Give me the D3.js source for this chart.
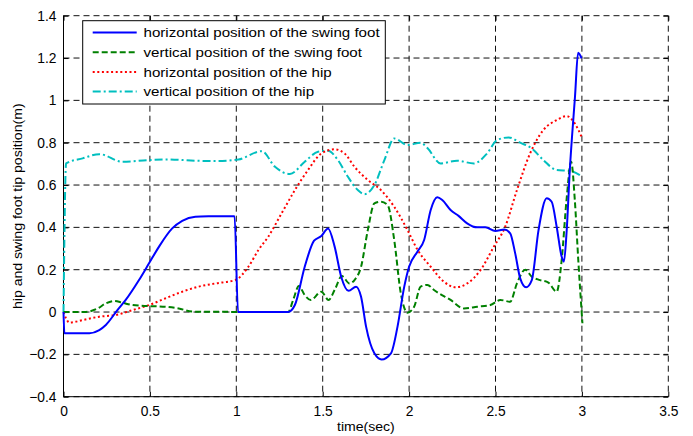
<!DOCTYPE html>
<html><head><meta charset="utf-8">
<script src="https://cdn.jsdelivr.net/npm/d3@7"></script>
<style>body{margin:0;background:#fff}svg{display:block}text{font-family:"Liberation Sans",Arial,sans-serif;fill:#000}</style>
</head><body><svg id="c" width="693" height="436"></svg>
<script>
const xTicks = [0, 0.5, 1, 1.5, 2, 2.5, 3, 3.5];
const yTicks = [-0.4, -0.2, 0, 0.2, 0.4, 0.6, 0.8, 1, 1.2, 1.4];
const seriesNames = ["horizontal position of the swing foot","vertical position of the swing foot","horizontal position of the hip","vertical position of the hip"];

const footHT = [0,0.005,0.15,0.207,0.245,0.312,0.36,0.437,0.495,0.552,0.629,0.687,0.763,0.84,0.99,1.01,1.30,1.339,1.396,1.45,1.492,1.531,1.569,1.607,1.65,1.693,1.722,1.751,1.799,1.841,1.895,1.933,1.972,2.0,2.048,2.087,2.125,2.163,2.192,2.24,2.288,2.336,2.394,2.441,2.499,2.551,2.585,2.614,2.643,2.677,2.71,2.749,2.796,2.825,2.854,2.883,2.896,2.911,2.93,2.96,2.978,2.998];
const footHV = [0,-0.1,-0.1,-0.085,-0.061,0.009,0.057,0.151,0.23,0.308,0.395,0.431,0.45,0.452,0.453,0,0,0.033,0.214,0.337,0.359,0.395,0.309,0.167,0.1,0.12,0.072,-0.069,-0.195,-0.224,-0.195,-0.069,0.12,0.214,0.285,0.34,0.482,0.542,0.529,0.482,0.453,0.419,0.4,0.4,0.383,0.39,0.372,0.277,0.159,0.117,0.151,0.387,0.537,0.521,0.403,0.261,0.238,0.372,0.67,1.017,1.225,1.198];

const footVT = [0,0.12,0.198,0.245,0.293,0.341,0.399,0.495,0.591,0.667,0.744,1.30,1.329,1.362,1.396,1.431,1.492,1.534,1.569,1.611,1.655,1.684,1.722,1.761,1.799,1.837,1.876,1.914,1.952,1.991,2.029,2.067,2.106,2.144,2.24,2.317,2.394,2.47,2.528,2.585,2.624,2.672,2.71,2.758,2.806,2.854,2.883,2.911,2.938,2.959,2.979,3.003];
const footVV = [0,0,0.017,0.041,0.052,0.044,0.033,0.028,0.025,0.017,0.002,0,0.057,0.123,0.08,0.057,0.096,0.057,0.104,0.17,0.135,0.151,0.214,0.387,0.513,0.521,0.505,0.34,0.088,-0.003,0.025,0.12,0.128,0.104,0.057,0.017,0.025,0.033,0.057,0.049,0.135,0.2,0.167,0.151,0.139,0.096,0.246,0.529,0.71,0.529,0.246,-0.053];

const hipHT = [0,0.035,0.111,0.207,0.303,0.399,0.495,0.591,0.687,0.782,0.878,0.994,1.07,1.128,1.185,1.262,1.339,1.415,1.492,1.569,1.627,1.684,1.761,1.837,1.914,1.991,2.048,2.125,2.202,2.269,2.336,2.413,2.49,2.556,2.624,2.7,2.777,2.854,2.911,2.959,2.998];
const hipHV = [0,-0.05,-0.038,-0.022,-0.014,0.009,0.033,0.065,0.096,0.12,0.135,0.151,0.214,0.293,0.356,0.466,0.576,0.671,0.749,0.769,0.749,0.686,0.624,0.576,0.497,0.387,0.295,0.214,0.143,0.117,0.135,0.198,0.308,0.403,0.576,0.749,0.86,0.907,0.926,0.891,0.828];

const hipVT = [0,0.015,0.111,0.207,0.341,0.495,0.591,0.763,0.878,1.013,1.147,1.224,1.31,1.396,1.473,1.531,1.588,1.646,1.703,1.742,1.799,1.857,1.914,1.991,2.067,2.106,2.182,2.278,2.375,2.451,2.509,2.576,2.643,2.71,2.777,2.854,2.93,2.998];
const hipVV = [0,0.702,0.726,0.746,0.71,0.718,0.721,0.715,0.713,0.721,0.76,0.686,0.652,0.71,0.757,0.762,0.718,0.639,0.576,0.557,0.6,0.718,0.82,0.789,0.8,0.775,0.702,0.715,0.702,0.749,0.812,0.825,0.8,0.773,0.718,0.671,0.667,0.642];

const L = 63.5, R = 668.3, T = 15.7, B = 396.7;
const x = d3.scaleLinear().domain([0, 3.5]).range([L, R]);
const y = d3.scaleLinear().domain([-0.4, 1.4]).range([B, T]);
const svg = d3.select("#c");

// grid
const g = svg.append("g");
g.selectAll("line.gx").data(xTicks).join("line")
  .attr("x1", d => x(d)).attr("x2", d => x(d)).attr("y1", T).attr("y2", B)
  .attr("stroke", "#111").attr("stroke-width", 1).attr("stroke-dasharray", "6,4");
g.selectAll("line.gy").data(yTicks).join("line")
  .attr("x1", L).attr("x2", R).attr("y1", d => y(d)).attr("y2", d => y(d))
  .attr("stroke", "#111").attr("stroke-width", 1).attr("stroke-dasharray", "6,4");

// axes
const xa = svg.append("g").attr("transform", `translate(0,${B})`)
  .call(d3.axisBottom(x).tickValues(xTicks).tickSize(-5).tickPadding(10).tickFormat(d3.format("")));
const ya = svg.append("g").attr("transform", `translate(${L},0)`)
  .call(d3.axisLeft(y).tickValues(yTicks).tickSize(-5).tickPadding(7).tickFormat(d3.format("")));
svg.append("g").attr("transform", `translate(0,${T})`)
  .call(d3.axisTop(x).tickValues(xTicks).tickSize(-5).tickFormat(""));
svg.append("g").attr("transform", `translate(${R},0)`)
  .call(d3.axisRight(y).tickValues(yTicks).tickSize(-5).tickFormat(""));
svg.selectAll(".domain").attr("stroke", "none");
svg.selectAll(".tick line").attr("stroke", "#000");
[xa, ya].forEach(a => a.selectAll("text").attr("font-size", 13.8).attr("fill", "#000")
  .style("font-family", '"Liberation Sans",Arial,sans-serif'));
svg.append("line").attr("x1", L).attr("x2", L).attr("y1", T).attr("y2", B).attr("stroke", "#000");
svg.append("line").attr("x1", L).attr("x2", R).attr("y1", B).attr("y2", B).attr("stroke", "#000");

// series
const series = [
  {t: hipVT, v: hipVV, color: "#00bfbf", dash: "8,3,2,3"},
  {t: hipHT, v: hipHV, color: "#ff0000", dash: "2,2.6"},
  {t: footVT, v: footVV, color: "#008000", dash: "6,3"},
  {t: footHT, v: footHV, color: "#0000ff", dash: null}
];
const line = d3.line().x(d => x(d[0])).y(d => y(d[1])).curve(d3.curveMonotoneX);
series.forEach(s => {
  svg.append("path").datum(s.t.map((t, i) => [t, s.v[i]]))
    .attr("d", line).attr("fill", "none").attr("stroke", s.color)
    .attr("stroke-width", 2).attr("stroke-dasharray", s.dash);
});

// legend
const leg = [
  {name: seriesNames[0], color: "#0000ff", dash: null},
  {name: seriesNames[1], color: "#008000", dash: "6,3"},
  {name: seriesNames[2], color: "#ff0000", dash: "2,2.6"},
  {name: seriesNames[3], color: "#00bfbf", dash: "8,3,2,3"}
];
svg.append("rect").attr("x", 82.7).attr("y", 20.7).attr("width", 302.6).attr("height", 83.3)
  .attr("fill", "#fff").attr("stroke", "#000").attr("stroke-width", 1);
leg.forEach((d, i) => {
  const yy = 32.5 + i * 19.7;
  svg.append("line").attr("x1", 92.7).attr("x2", 136.7).attr("y1", yy).attr("y2", yy)
    .attr("stroke", d.color).attr("stroke-width", 2).attr("stroke-dasharray", d.dash);
  svg.append("text").attr("transform", `translate(143.5,${yy + 4.8}) scale(1.12,1)`)
    .attr("font-size", 13.5).text(d.name);
});

svg.append("text").attr("transform", `translate(${(L + R) / 2},431) scale(1.1,1)`)
  .attr("text-anchor", "middle").attr("font-size", 12.8).text("time(sec)");
svg.append("text").attr("transform", `translate(22,${(T + B) / 2}) rotate(-90) scale(1.1,1)`)
  .attr("text-anchor", "middle").attr("font-size", 12.8).text("hip and swing foot tip position(m)");
</script></body></html>
